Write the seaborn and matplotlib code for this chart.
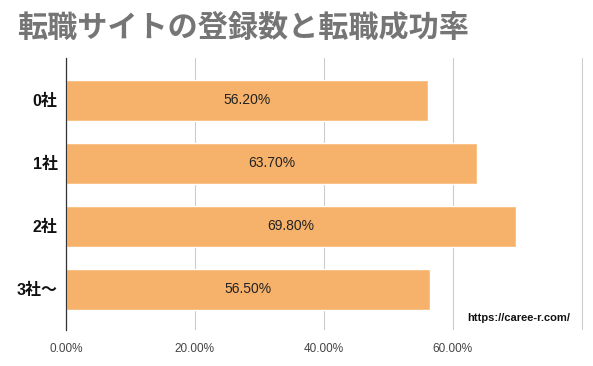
import pandas as pd
import matplotlib
matplotlib.use("Agg")
import matplotlib.pyplot as plt
import seaborn as sns

# data
categories = ["0社", "1社", "2社", "3社〜"]
rates = [56.2, 63.7, 69.8, 56.5]
tick_vals = [0, 20, 40, 60, 80]
tick_labels = ["0.00%", "20.00%", "40.00%", "60.00%", ""]

sns.set_style("white")
plt.rcParams['font.family'] = ['Liberation Sans', 'Noto Sans CJK JP', 'DejaVu Sans']

df = pd.DataFrame({"cat": categories, "rate": rates})

fig = plt.figure(figsize=(5.93, 3.66), dpi=100)
ax = fig.add_axes([66 / 593, 1 - 330 / 366, (583 - 66) / 593, (330 - 58) / 366])

sns.barplot(data=df, y="cat", x="rate", orient="h", color="#F6B26B",
            saturation=1, width=0.65, ax=ax, zorder=3)

for i, v in enumerate(rates):
    ax.text(v / 2, i, f"{v:.2f}%", ha="center", va="center", fontsize=10,
            color="#222222", zorder=4)

ax.set_xlim(0, 80.2)
ax.set_ylim(3.65, -0.67)
ax.set_xticks(tick_vals)
ax.set_xticklabels(tick_labels, fontsize=8.5, color="#444444")
ax.tick_params(axis="x", length=0, pad=9)
ax.tick_params(axis="y", length=0, pad=6)
for lab in ax.get_yticklabels():
    lab.set_fontweight("bold")
    lab.set_fontsize(11.5)
    lab.set_color("#111111")
ax.set_xlabel("")
ax.set_ylabel("")
ax.xaxis.grid(True, color="#cccccc", linewidth=0.8, zorder=0)
for s in ["top", "right", "bottom"]:
    ax.spines[s].set_visible(False)
ax.spines["left"].set_color("#333333")
ax.spines["left"].set_linewidth(0.9)
ax.spines["left"].set_zorder(5)

fig.text(17 / 593, 1 - 28 / 366, "転職サイトの登録数と転職成功率", fontsize=21.7,
         fontweight="bold", color="#757575", ha="left", va="center",
         family=['Noto Sans CJK JP'])
fig.text(519 / 593, 1 - 318 / 366, "https://caree-r.com/", fontsize=8,
         fontweight="bold", color="#111111", ha="center", va="center")

fig.savefig("out.png", dpi=100)
